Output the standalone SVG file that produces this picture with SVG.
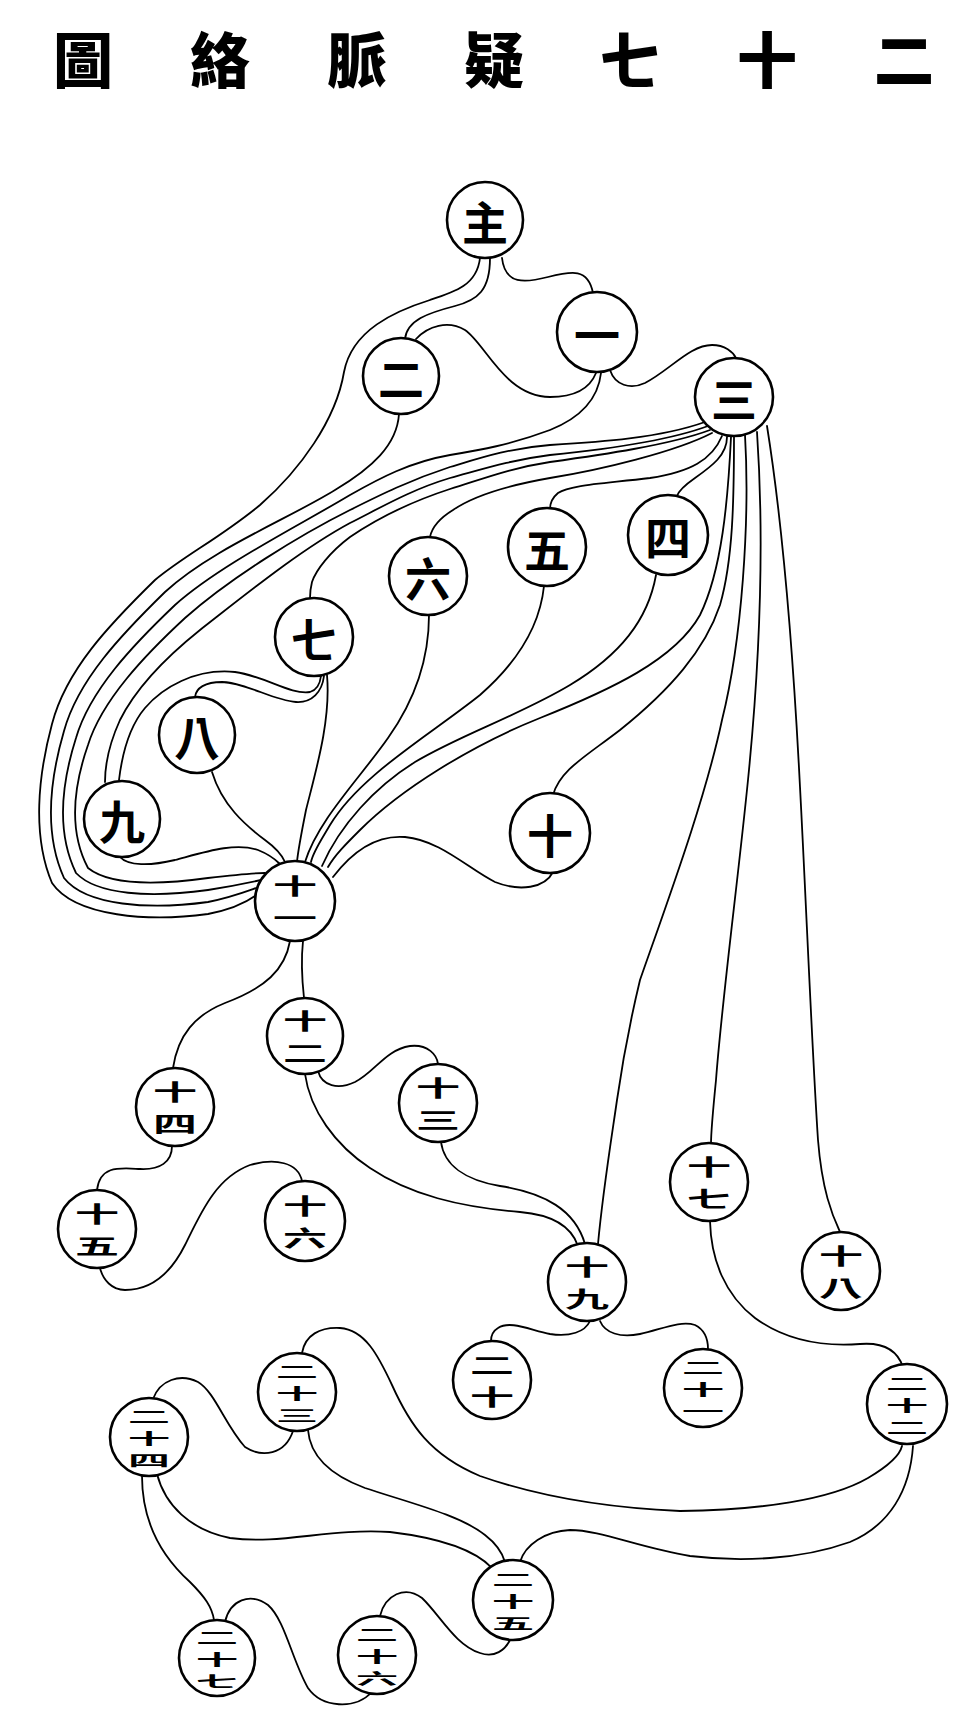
<svg xmlns="http://www.w3.org/2000/svg" width="960" height="1728" viewBox="0 0 960 1728">
<style>
.e{fill:none;stroke:#000;stroke-width:1.8;stroke-linecap:round}
.c{fill:#fff;stroke:#000;stroke-width:2.6}
.t,.s2,.s3{font-family:"Noto Sans CJK TC","Noto Sans CJK SC",sans-serif;font-weight:700;text-anchor:middle;dominant-baseline:central;fill:#000}
.t{font-size:46px}
.s2{font-size:44px}
.s3{font-size:42px}
.h{font-family:"Noto Sans CJK TC","Noto Sans CJK SC",sans-serif;font-size:60px;font-weight:900;text-anchor:middle;dominant-baseline:central;fill:#000}
</style>
<rect width="960" height="1728" fill="#fff"/>
<g id="title">
<text class="h" x="83" y="56">圖</text>
<text class="h" x="220" y="56">絡</text>
<text class="h" x="357" y="56">脈</text>
<text class="h" x="494" y="56">疑</text>
<text class="h" x="630" y="56">七</text>
<text class="h" x="767" y="56">十</text>
<text class="h" x="904" y="56">二</text>
</g>
<g id="connectors">
<path class="e" d="M502,258 C505,285 525,283 548,277 C572,271 588,268 593,293"/>
<path class="e" d="M490,258 C490,290 478,300 455,306 C428,313 407,320 405,339"/>
<path class="e" d="M416,339 C428,326 448,320 465,330 C485,343 505,397 550,397 C575,397 590,388 596,373"/>
<path class="e" d="M610,370 C615,385 630,390 645,383 C670,370 690,345 712,345 C725,345 733,352 736,358"/>
<path class="e" d="M480,258 C477,285 455,292 430,300 C395,311 352,330 344,372 C336,420 300,470 260,505 C220,538 185,555 155,580 C109,625 66,670 52,724 C38,776 32,836 52,883 C75,917 150,922 208,914 C235,909 250,900 258,894"/>
<path class="e" d="M399,414 C397,445 372,468 335,490 C290,518 210,550 165,592 C121,635 78,680 64,731 C50,779 44,834 64,878 C86,906 150,910 208,902 C233,897 250,890 259,887"/>
<path class="e" d="M601,373 C598,400 580,418 550,430 C510,445 480,450 450,455 C410,462 380,478 350,495 C300,525 220,565 175,605 C133,645 90,690 76,738 C62,782 56,832 76,873 C97,895 150,898 208,890 C233,886 252,882 261,880"/>
<path class="e" d="M705,422 C660,438 600,442 550,445 C510,448 480,458 450,467 C410,480 380,495 350,510 C300,535 230,578 185,618 C145,655 102,700 88,745 C74,785 68,830 88,868 C108,884 150,886 208,878 C233,875 253,873 265,873"/>
<path class="e" d="M708,426 C665,442 600,450 550,455 C510,460 480,470 450,478 C410,490 380,508 350,523 C300,550 245,595 200,630 C165,658 135,690 120,720 C110,742 105,762 105,782"/>
<path class="e" d="M710,430 C670,445 600,455 550,462 C510,468 480,480 450,489 C410,502 375,520 350,537 C330,552 316,570 312,582 C310,590 310,594 310,598"/>
<path class="e" d="M712,433 C675,452 600,470 550,478 C510,485 475,495 453,510 C440,518 432,527 430,537"/>
<path class="e" d="M722,436 C712,460 690,472 650,478 C600,484 570,485 558,493 C552,498 550,503 550,509"/>
<path class="e" d="M727,437 C727,455 712,466 695,478 C685,485 679,490 677,496"/>
<path class="e" d="M731,437 C728,500 722,570 700,615 C675,660 610,690 540,718 C470,746 400,790 360,830 C345,845 335,855 328,867"/>
<path class="e" d="M734,436 C734,500 733,560 720,605 C705,650 670,690 620,730 C585,757 560,770 553,795"/>
<path class="e" d="M745,435 C750,520 742,640 722,720 C705,800 668,900 640,980 C628,1030 622,1065 617,1100 C612,1135 603,1190 598,1244"/>
<path class="e" d="M757,432 C765,550 758,680 748,780 C738,880 722,1000 716,1080 C713,1110 711,1130 711,1144"/>
<path class="e" d="M767,426 C782,520 793,650 800,787 C806,900 812,1050 818,1140 C822,1190 832,1215 840,1232"/>
<path class="e" d="M429,615 C429,660 415,700 388,738 C360,778 318,820 305,862"/>
<path class="e" d="M544,586 C540,625 520,660 480,695 C430,735 360,775 330,825 C320,842 313,852 311,862"/>
<path class="e" d="M656,575 C648,620 620,655 570,685 C520,715 460,735 415,762 C375,787 340,825 322,866"/>
<path class="e" d="M553,872 C545,888 520,892 495,882 C470,870 440,840 405,837 C380,835 355,848 333,877"/>
<path class="e" d="M327,675 C331,720 316,770 306,810 C301,835 298,850 297,862"/>
<path class="e" d="M119,780 C122,755 128,728 145,708 C162,688 195,668 235,672 C265,676 290,695 310,692 C317,690 320,684 321,676"/>
<path class="e" d="M195,697 C196,688 205,682 222,682 C247,683 272,700 296,702 C312,703 322,692 324,676"/>
<path class="e" d="M212,772 C222,805 245,825 265,840 C276,848 282,855 285,862"/>
<path class="e" d="M120,857 C128,866 150,866 175,860 C205,852 235,842 258,850 C268,854 276,860 280,864"/>
<path class="e" d="M303,941 C301,960 302,980 304,998"/>
<path class="e" d="M290,941 C285,970 265,988 225,1003 C195,1015 178,1035 173,1068"/>
<path class="e" d="M318,1071 C322,1086 338,1090 355,1082 C375,1072 385,1050 410,1046 C428,1044 437,1055 438,1064"/>
<path class="e" d="M305,1074 C310,1110 335,1145 370,1168 C410,1195 460,1207 520,1212 C555,1215 572,1228 578,1246"/>
<path class="e" d="M441,1142 C444,1165 465,1180 500,1186 C545,1193 575,1210 585,1244"/>
<path class="e" d="M172,1146 C172,1162 160,1170 140,1169 C120,1168 100,1165 97,1190"/>
<path class="e" d="M302,1181 C298,1162 275,1158 250,1165 C215,1178 200,1215 185,1245 C170,1275 150,1290 125,1290 C112,1290 103,1280 100,1268"/>
<path class="e" d="M590,1321 C585,1332 570,1337 550,1334 C530,1330 510,1320 498,1328 C493,1331 491,1336 491,1341"/>
<path class="e" d="M600,1321 C605,1333 620,1338 640,1334 C660,1330 680,1320 695,1325 C705,1330 708,1340 708,1349"/>
<path class="e" d="M710,1221 C711,1260 725,1295 755,1318 C785,1340 820,1347 860,1344 C885,1342 898,1352 903,1367"/>
<path class="e" d="M302,1353 C305,1335 320,1327 340,1328 C365,1330 378,1355 392,1385 C410,1425 430,1455 480,1476 C540,1497 610,1508 680,1511 C760,1510 830,1500 868,1478 C890,1465 900,1455 902,1446"/>
<path class="e" d="M913,1446 C910,1490 890,1525 850,1542 C800,1560 740,1562 690,1556 C640,1548 600,1530 570,1530 C545,1531 525,1545 520,1562"/>
<path class="e" d="M153,1399 C160,1380 180,1373 198,1382 C215,1392 225,1425 245,1447 C262,1458 285,1455 293,1431"/>
<path class="e" d="M308,1430 C310,1455 330,1475 365,1488 C410,1503 460,1515 485,1535 C498,1545 503,1555 505,1562"/>
<path class="e" d="M157,1474 C165,1505 190,1530 230,1538 C280,1545 330,1528 390,1532 C440,1538 475,1550 492,1568"/>
<path class="e" d="M142,1476 C142,1520 160,1555 190,1582 C205,1597 212,1607 214,1620"/>
<path class="e" d="M225,1622 C230,1600 250,1592 268,1605 C285,1620 292,1660 308,1688 C322,1708 355,1710 372,1692"/>
<path class="e" d="M380,1616 C385,1595 405,1585 422,1598 C440,1615 455,1645 480,1653 C495,1658 505,1650 510,1640"/>
</g>
<g id="n0"><circle class="c" cx="485" cy="220" r="38"/><text class="t" x="485" y="220">主</text></g>
<g id="n1"><circle class="c" cx="597" cy="332" r="40"/><text class="t" x="597" y="332">一</text></g>
<g id="n2"><circle class="c" cx="401" cy="376" r="38"/><text class="t" x="401" y="376">二</text></g>
<g id="n3"><circle class="c" cx="734" cy="397" r="39"/><text class="t" x="734" y="397">三</text></g>
<g id="n4"><circle class="c" cx="668" cy="535" r="40"/><text class="t" x="668" y="535">四</text></g>
<g id="n5"><circle class="c" cx="547" cy="547" r="39"/><text class="t" x="547" y="547">五</text></g>
<g id="n6"><circle class="c" cx="428" cy="576" r="39"/><text class="t" x="428" y="576">六</text></g>
<g id="n7"><circle class="c" cx="314" cy="637" r="39"/><text class="t" x="314" y="637">七</text></g>
<g id="n8"><circle class="c" cx="197" cy="735" r="38"/><text class="t" x="197" y="735">八</text></g>
<g id="n9"><circle class="c" cx="122" cy="819" r="38"/><text class="t" x="122" y="819">九</text></g>
<g id="n10"><circle class="c" cx="550" cy="833" r="40"/><text class="t" x="550" y="833">十</text></g>
<g id="n11"><circle class="c" cx="295" cy="901" r="40"/><text class="s2" transform="translate(295,885) scale(1,0.49)">十</text><text class="s2" transform="translate(295,917) scale(1,0.49)">一</text></g>
<g id="n12"><circle class="c" cx="305" cy="1036" r="38"/><text class="s2" transform="translate(305,1020) scale(1,0.49)">十</text><text class="s2" transform="translate(305,1052) scale(1,0.49)">二</text></g>
<g id="n13"><circle class="c" cx="438" cy="1103" r="39"/><text class="s2" transform="translate(438,1087) scale(1,0.49)">十</text><text class="s2" transform="translate(438,1119) scale(1,0.49)">三</text></g>
<g id="n14"><circle class="c" cx="175" cy="1107" r="39"/><text class="s2" transform="translate(175,1091) scale(1,0.49)">十</text><text class="s2" transform="translate(175,1123) scale(1,0.49)">四</text></g>
<g id="n15"><circle class="c" cx="97" cy="1229" r="39"/><text class="s2" transform="translate(97,1213) scale(1,0.49)">十</text><text class="s2" transform="translate(97,1245) scale(1,0.49)">五</text></g>
<g id="n16"><circle class="c" cx="305" cy="1221" r="40"/><text class="s2" transform="translate(305,1205) scale(1,0.49)">十</text><text class="s2" transform="translate(305,1237) scale(1,0.49)">六</text></g>
<g id="n17"><circle class="c" cx="709" cy="1182" r="39"/><text class="s2" transform="translate(709,1166) scale(1,0.49)">十</text><text class="s2" transform="translate(709,1198) scale(1,0.49)">七</text></g>
<g id="n18"><circle class="c" cx="841" cy="1271" r="39"/><text class="s2" transform="translate(841,1255) scale(1,0.49)">十</text><text class="s2" transform="translate(841,1287) scale(1,0.49)">八</text></g>
<g id="n19"><circle class="c" cx="587" cy="1282" r="39"/><text class="s2" transform="translate(587,1266) scale(1,0.49)">十</text><text class="s2" transform="translate(587,1298) scale(1,0.49)">九</text></g>
<g id="n20"><circle class="c" cx="492" cy="1380" r="39"/><text class="s2" transform="translate(492,1364) scale(1,0.49)">二</text><text class="s2" transform="translate(492,1396) scale(1,0.49)">十</text></g>
<g id="n21"><circle class="c" cx="703" cy="1388" r="39"/><text class="s3" transform="translate(703,1366) scale(1,0.355)">二</text><text class="s3" transform="translate(703,1388) scale(1,0.355)">十</text><text class="s3" transform="translate(703,1410) scale(1,0.355)">一</text></g>
<g id="n22"><circle class="c" cx="907" cy="1404" r="40"/><text class="s3" transform="translate(907,1382) scale(1,0.355)">二</text><text class="s3" transform="translate(907,1404) scale(1,0.355)">十</text><text class="s3" transform="translate(907,1426) scale(1,0.355)">二</text></g>
<g id="n23"><circle class="c" cx="297" cy="1392" r="39"/><text class="s3" transform="translate(297,1370) scale(1,0.355)">二</text><text class="s3" transform="translate(297,1392) scale(1,0.355)">十</text><text class="s3" transform="translate(297,1414) scale(1,0.355)">三</text></g>
<g id="n24"><circle class="c" cx="149" cy="1437" r="39"/><text class="s3" transform="translate(149,1415) scale(1,0.355)">二</text><text class="s3" transform="translate(149,1437) scale(1,0.355)">十</text><text class="s3" transform="translate(149,1459) scale(1,0.355)">四</text></g>
<g id="n25"><circle class="c" cx="513" cy="1600" r="40"/><text class="s3" transform="translate(513,1578) scale(1,0.355)">二</text><text class="s3" transform="translate(513,1600) scale(1,0.355)">十</text><text class="s3" transform="translate(513,1622) scale(1,0.355)">五</text></g>
<g id="n26"><circle class="c" cx="377" cy="1655" r="39"/><text class="s3" transform="translate(377,1633) scale(1,0.355)">二</text><text class="s3" transform="translate(377,1655) scale(1,0.355)">十</text><text class="s3" transform="translate(377,1677) scale(1,0.355)">六</text></g>
<g id="n27"><circle class="c" cx="217" cy="1658" r="38"/><text class="s3" transform="translate(217,1636) scale(1,0.355)">二</text><text class="s3" transform="translate(217,1658) scale(1,0.355)">十</text><text class="s3" transform="translate(217,1680) scale(1,0.355)">七</text></g>
</svg>
